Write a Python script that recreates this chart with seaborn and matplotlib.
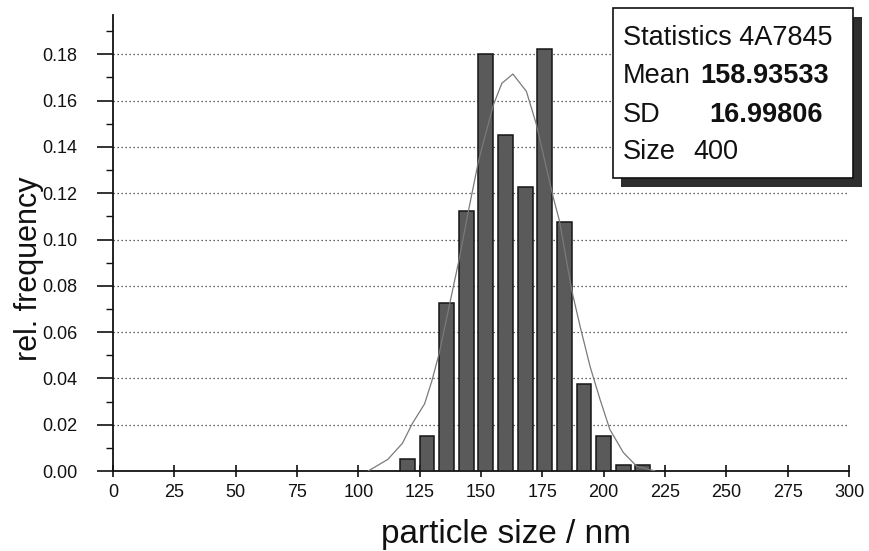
import matplotlib
matplotlib.use("Agg")
import matplotlib.pyplot as plt
from matplotlib.patches import Rectangle
from matplotlib.ticker import MultipleLocator, FormatStrFormatter
import seaborn as sns
import pandas as pd

# Histogram of particle sizes (bin centres in nm, relative frequency)
bin_centers = [120, 128, 136, 144, 152, 160, 168, 176, 184, 192, 200, 208, 216]
rel_freq = [0.005, 0.015, 0.0725, 0.1125, 0.18, 0.145, 0.1225, 0.1825,
            0.1075, 0.0375, 0.015, 0.0025, 0.0025]

# Smoothed distribution curve
curve_x = [104, 112, 118, 122, 127, 130, 133, 136, 138, 141, 145, 149, 155,
           158.5, 163, 168.5, 172.5, 179.5, 182, 187, 190.5, 194.5, 198.5,
           202.5, 208, 213.5, 221]
curve_y = [0.0, 0.005, 0.012, 0.0205, 0.029, 0.039, 0.051, 0.066, 0.076,
           0.091, 0.113, 0.134, 0.158, 0.1675, 0.1715, 0.164, 0.150, 0.118,
           0.108, 0.078, 0.062, 0.045, 0.031, 0.018, 0.008, 0.002, 0.0]

x_ticks = list(range(0, 301, 25))

stats_title = "Statistics 4A7845"
stats_mean = "158.93533"
stats_sd = "16.99806"
stats_size = "400"

sns.set_style("ticks")
plt.rcParams["font.family"] = ["Liberation Sans", "DejaVu Sans"]

W, H = 869, 551
fig = plt.figure(figsize=(W / 100, H / 100), dpi=100)
fig.patch.set_facecolor("white")


def fx(px):
    return px / W


def fy(py):
    return 1 - py / H


ax = fig.add_axes([fx(113), fy(471), fx(849) - fx(113), fy(15) - fy(471)])

hist = pd.DataFrame({"size": bin_centers, "freq": rel_freq})
curve = pd.DataFrame({"size": curve_x, "freq": curve_y})

sns.barplot(data=hist, x="size", y="freq", native_scale=True, width=0.76,
            color="#5a5a5a", saturation=1, edgecolor="#151515",
            linewidth=1.1, ax=ax, zorder=3)
sns.lineplot(data=curve, x="size", y="freq", color="#7a7a7a", linewidth=0.9,
             ax=ax, zorder=4)

ax.set_xlim(0, 300)
ax.set_ylim(0, 0.197)
ax.set_xticks(x_ticks)
ax.set_xticklabels([str(t) for t in x_ticks])
ax.yaxis.set_major_locator(MultipleLocator(0.02))
ax.yaxis.set_minor_locator(MultipleLocator(0.01))
ax.yaxis.set_major_formatter(FormatStrFormatter("%.2f"))

ax.set_xlabel("")
ax.set_ylabel("")

for side in ("top", "right"):
    ax.spines[side].set_visible(False)
for side in ("left", "bottom"):
    ax.spines[side].set_linewidth(1.3)
    ax.spines[side].set_color("#111111")

ax.tick_params(axis="x", direction="inout", length=8, width=1.2,
               labelsize=13, pad=5.5, colors="#111111")
ax.tick_params(axis="y", which="major", direction="out", length=11.5,
               width=1.2, labelsize=13, pad=14, colors="#111111")
ax.tick_params(axis="y", which="minor", direction="out", length=4.8,
               width=1.0, colors="#111111")

ax.yaxis.grid(True, which="major", linestyle=(0, (1, 2.2)), linewidth=0.9,
              color="#333333", zorder=0)
ax.xaxis.grid(False)
ax.set_axisbelow(True)

fig.text(fx(506), fy(543), "particle size / nm", fontsize=24,
         ha="center", va="baseline", color="#111111")
fig.text(fx(29), fy(269), "rel. frequency", fontsize=22, rotation=90,
         ha="center", va="center", color="#111111")

# Statistics box with drop shadow
fig.add_artist(Rectangle((fx(621), fy(187)), fx(862) - fx(621),
                         fy(17) - fy(187), transform=fig.transFigure,
                         facecolor="#2e2e2e", edgecolor="none", zorder=10))
fig.add_artist(Rectangle((fx(612.5), fy(178)), fx(853) - fx(612.5),
                         fy(8) - fy(178), transform=fig.transFigure,
                         facecolor="white", edgecolor="#111111",
                         linewidth=1.2, zorder=11))

fs = 19.5
fig.text(fx(623), fy(45), stats_title, fontsize=fs, va="baseline",
         ha="left", zorder=12, color="#111111")
fig.text(fx(623), fy(83), "Mean", fontsize=fs, va="baseline", ha="left",
         zorder=12, color="#111111")
fig.text(fx(700), fy(83), stats_mean, fontsize=fs, fontweight="bold",
         va="baseline", ha="left", zorder=12, color="#111111")
fig.text(fx(623), fy(122), "SD", fontsize=fs, va="baseline", ha="left",
         zorder=12, color="#111111")
fig.text(fx(709), fy(122), stats_sd, fontsize=fs, fontweight="bold",
         va="baseline", ha="left", zorder=12, color="#111111")
fig.text(fx(623), fy(159), "Size", fontsize=fs, va="baseline", ha="left",
         zorder=12, color="#111111")
fig.text(fx(693), fy(159), stats_size, fontsize=fs, va="baseline", ha="left",
         zorder=12, color="#111111")

fig.savefig("out.png", dpi=100, facecolor="white")
